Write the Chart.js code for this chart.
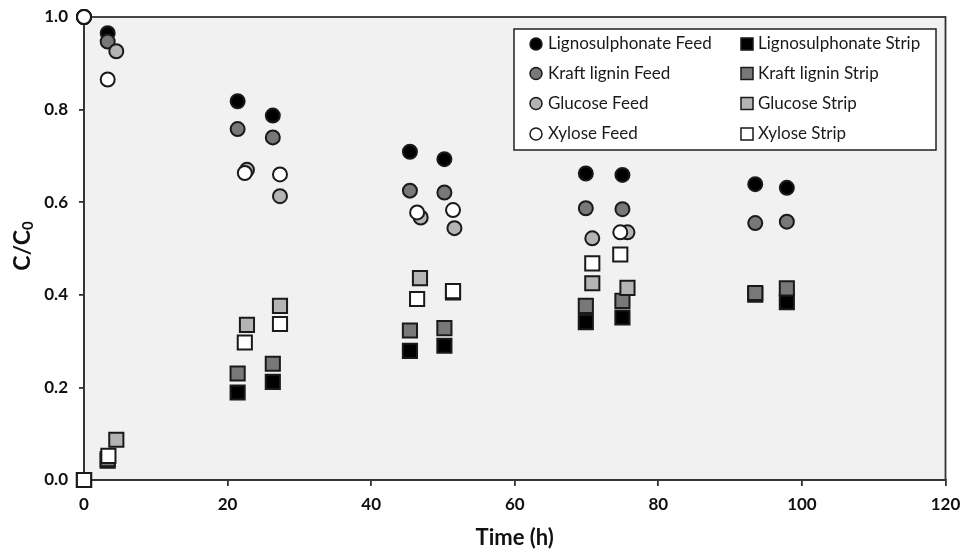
<!DOCTYPE html>
<html><head><meta charset="utf-8">
<script src="https://cdn.jsdelivr.net/npm/chart.js@4.4.1/dist/chart.umd.min.js"></script>
<style>html,body{margin:0;padding:0;background:#fff}#wrap{width:961px;height:552px;position:relative}</style>
</head><body><div id="wrap"><canvas id="c" width="961" height="552"></canvas></div>
<script>
// ---- data ----
const seriesLabels = ['Lignosulphonate Feed','Lignosulphonate Strip','Kraft lignin Feed','Kraft lignin Strip','Glucose Feed','Glucose Strip','Xylose Feed','Xylose Strip'];
const ligninTime = [0, 3.3, 21.4, 26.3, 45.4, 50.2, 69.9, 75.0, 93.5, 97.9];
const lignoFeed  = [1.0, 0.965, 0.818, 0.787, 0.709, 0.693, 0.662, 0.659, 0.639, 0.631];
const lignoStrip = [0.0, 0.042, 0.189, 0.212, 0.279, 0.290, 0.341, 0.351, 0.400, 0.384];
const kraftFeed  = [1.0, 0.947, 0.758, 0.740, 0.625, 0.621, 0.587, 0.585, 0.555, 0.558];
const kraftStrip = [0.0, 0.045, 0.230, 0.251, 0.323, 0.328, 0.376, 0.387, 0.404, 0.414];
const glucoseFeedTime  = [0, 4.5, 22.7, 27.3, 46.9, 51.6, 70.8, 75.7];
const glucoseFeed      = [1.0, 0.926, 0.670, 0.613, 0.567, 0.544, 0.522, 0.535];
const glucoseStripTime = [0, 4.5, 22.7, 27.3, 46.8, 51.4, 70.8, 75.7];
const glucoseStrip     = [0.0, 0.087, 0.335, 0.376, 0.436, 0.405, 0.425, 0.415];
const xyloseFeedTime   = [0, 3.3, 22.4, 27.3, 46.4, 51.4, 74.7];
const xyloseFeed       = [1.0, 0.865, 0.663, 0.660, 0.578, 0.583, 0.535];
const xyloseStripTime  = [0, 3.4, 22.4, 27.3, 46.4, 51.4, 70.8, 74.7];
const xyloseStrip      = [0.0, 0.052, 0.297, 0.337, 0.391, 0.408, 0.468, 0.487];
const xTickValues = [0, 20, 40, 60, 80, 100, 120];
const yTickValues = [0.0, 0.2, 0.4, 0.6, 0.8, 1.0];
const xTitle = 'Time (h)';
const yTitleMain = 'C/C';
const yTitleSub = '0';

const zip = (t, v) => t.map((x, i) => ({x: x, y: v[i]}));
const fills = ['#000000','#000000','#787878','#787878','#b4b4b4','#b4b4b4','#ffffff','#ffffff'];
const seriesData = [
  zip(ligninTime, lignoFeed), zip(ligninTime, lignoStrip),
  zip(ligninTime, kraftFeed), zip(ligninTime, kraftStrip),
  zip(glucoseFeedTime, glucoseFeed), zip(glucoseStripTime, glucoseStrip),
  zip(xyloseFeedTime, xyloseFeed), zip(xyloseStripTime, xyloseStrip)
];
const datasets = seriesLabels.map((lab, i) => {
  const isStrip = i % 2 === 1;
  return {
    label: lab,
    data: seriesData[i],
    showLine: false,
    clip: false,
    order: 8 - i,
    pointStyle: isStrip ? 'rect' : 'circle',
    pointRadius: isStrip ? 10 : 7,
    pointHoverRadius: isStrip ? 10 : 7,
    pointBackgroundColor: fills[i],
    pointBorderColor: '#1a1a1a',
    pointBorderWidth: 2,
    backgroundColor: fills[i],
    borderColor: '#1a1a1a'
  };
});

const FONT = 'Lato, "Open Sans", sans-serif';

const framePlugin = {
  id: 'frame',
  beforeDraw(chart) {
    const {ctx, chartArea: a} = chart;
    ctx.save();
    ctx.fillStyle = '#f1f1f1';
    ctx.fillRect(a.left, a.top, a.right - a.left, a.bottom - a.top);
    ctx.restore();
  },
  beforeDatasetsDraw(chart) {
    const {ctx, chartArea: a} = chart;
    ctx.save();
    ctx.strokeStyle = '#333333';
    ctx.lineWidth = 1.8;
    ctx.strokeRect(a.left, a.top, a.right - a.left, a.bottom - a.top);
    ctx.restore();
  },
  afterDraw(chart) {
    const {ctx, chartArea: a} = chart;
    ctx.save();
    ctx.fillStyle = '#111';
    ctx.font = 'bold 22px ' + FONT;
    ctx.textAlign = 'center';
    ctx.textBaseline = 'middle';
    ctx.fillText(xTitle, (a.left + a.right) / 2, 538);
    ctx.translate(23, 246);
    ctx.rotate(-Math.PI / 2);
    ctx.font = 'bold 23px ' + FONT;
    const w1 = ctx.measureText(yTitleMain).width;
    ctx.font = 'bold 15px ' + FONT;
    const w2 = ctx.measureText(yTitleSub).width;
    const start = -(w1 + w2) / 2;
    ctx.textAlign = 'left';
    ctx.font = 'bold 23px ' + FONT;
    ctx.fillText(yTitleMain, start, 0);
    ctx.font = 'bold 15px ' + FONT;
    ctx.fillText(yTitleSub, start + w1, 5);
    ctx.restore();

    // legend
    ctx.save();
    const bx = 514, by = 29, bw = 422, bh = 121;
    ctx.fillStyle = '#ffffff';
    ctx.fillRect(bx, by, bw, bh);
    ctx.strokeStyle = '#222';
    ctx.lineWidth = 1.5;
    ctx.strokeRect(bx, by, bw, bh);
    const rows = [44, 73.5, 103.5, 134];
    const colMarker = [536, 747];
    const colText = [548, 758];
    ctx.font = '17px ' + FONT;
    ctx.textBaseline = 'middle';
    ctx.textAlign = 'left';
    chart.data.datasets.forEach((ds, i) => {
      const col = i % 2, row = Math.floor(i / 2);
      const y = rows[row];
      ctx.fillStyle = ds.pointBackgroundColor;
      ctx.strokeStyle = '#1a1a1a';
      ctx.lineWidth = 1.5;
      Chart.helpers.drawPoint(ctx, {
        pointStyle: ds.pointStyle,
        radius: ds.pointStyle === 'rect' ? 8.5 : 6,
        rotation: 0,
        borderWidth: 1.5
      }, colMarker[col], y);
      ctx.fillStyle = '#1a1a1a';
      ctx.fillText(ds.label, colText[col], y);
    });
    ctx.restore();
  }
};

new Chart(document.getElementById('c'), {
  type: 'scatter',
  data: { datasets },
  options: {
    responsive: false,
    animation: false,
    devicePixelRatio: 1,
    layout: { padding: { left: 0, right: 15.5, top: 17, bottom: 0 } },
    plugins: { legend: { display: false }, tooltip: { enabled: false } },
    scales: {
      x: {
        type: 'linear', min: 0, max: 120,
        afterFit(s) { s.height = 72; s.paddingLeft = 0; s.paddingRight = 0; },
        afterBuildTicks(s) { s.ticks = xTickValues.map(v => ({value: v})); },
        grid: { display: true, drawOnChartArea: false, drawTicks: true, tickLength: 6, color: '#333', lineWidth: 1.8 },
        border: { display: true, color: '#333', width: 1.8 },
        ticks: { color: '#111', font: { family: FONT, size: 17, weight: 'bold' }, padding: 8, maxRotation: 0,
                 callback: v => String(v) }
      },
      y: {
        type: 'linear', min: 0, max: 1,
        afterFit(s) { s.width = 84; s.paddingTop = 0; s.paddingBottom = 0; },
        afterBuildTicks(s) { s.ticks = yTickValues.map(v => ({value: v})); },
        grid: { display: true, drawOnChartArea: false, drawTicks: true, tickLength: 5, color: '#333', lineWidth: 1.8 },
        border: { display: true, color: '#333', width: 1.8 },
        ticks: { color: '#111', font: { family: FONT, size: 17, weight: 'bold' }, padding: 11,
                 callback: v => Number(v).toFixed(1) }
      }
    }
  },
  plugins: [framePlugin]
});
</script>
</body></html>
